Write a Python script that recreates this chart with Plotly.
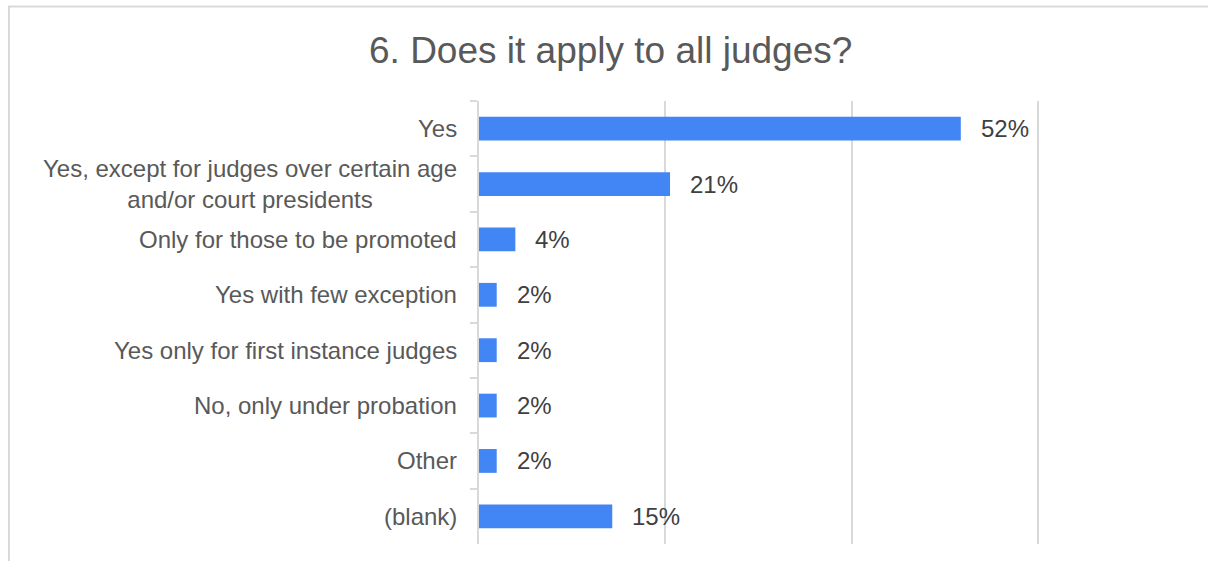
import plotly.graph_objects as go

categories = [
    "Yes",
    "Yes, except for judges over certain age<br>and/or court presidents",
    "Only for those to be promoted",
    "Yes with few exception",
    "Yes only for first instance judges",
    "No, only under probation",
    "Other",
    "(blank)",
]
values = [0.517, 0.205, 0.039, 0.019, 0.019, 0.019, 0.019, 0.143]
labels = ["52%", "21%", "4%", "2%", "2%", "2%", "2%", "15%"]
title_text = "6. Does it apply to all judges?"

W, H = 1208, 561
ML, MR, MT, MB = 479, 168, 101, 17
PW, PH = W - ML - MR, H - MT - MB
X_MAX = 0.602

def px_x(x):
    return (x - ML) / PW

def px_y(y):
    return 1 - (y - MT) / PH

FONT = "Liberation Sans, Arial, sans-serif"
GRID = "#d9d9d9"

fig = go.Figure()
fig.add_trace(go.Bar(
    x=values,
    y=categories,
    orientation="h",
    width=0.43,
    marker=dict(color="#4285F4", line=dict(width=0)),
    hoverinfo="skip",
))

annotations = []
for c in categories:
    annotations.append(dict(
        x=0, y=c, xref="paper", yref="y", text=c, showarrow=False,
        xanchor="right", yanchor="middle", align="center", xshift=-20,
        font=dict(family=FONT, size=24, color="#595959"),
    ))
for c, v, t in zip(categories, values, labels):
    annotations.append(dict(
        x=v, y=c, xref="x", yref="y", text=t, showarrow=False,
        xanchor="left", yanchor="middle", xshift=18,
        font=dict(family=FONT, size=24, color="#404040"),
    ))
annotations.append(dict(
    x=px_x(610), y=px_y(51), xref="paper", yref="paper", text=title_text,
    showarrow=False, xanchor="center", yanchor="middle",
    font=dict(family=FONT, size=37, color="#595959"),
))

fig.update_layout(
    width=W, height=H,
    margin=dict(l=ML, r=MR, t=MT, b=MB, pad=0),
    paper_bgcolor="white",
    plot_bgcolor="white",
    showlegend=False,
    annotations=annotations,
    shapes=[dict(
        type="rect", xref="paper", yref="paper",
        x0=px_x(9), x1=px_x(1215), y0=px_y(568), y1=px_y(6.5),
        line=dict(color=GRID, width=2), fillcolor="rgba(0,0,0,0)", layer="below",
    )],
    xaxis=dict(
        range=[0, X_MAX], dtick=0.2, tick0=0,
        showticklabels=False, showline=False, zeroline=False,
        showgrid=True, gridcolor=GRID, gridwidth=1.5, ticks="",
        fixedrange=True,
    ),
    yaxis=dict(
        autorange="reversed", showticklabels=False, showgrid=False,
        showline=True, linecolor=GRID, linewidth=2,
        ticks="outside", tickson="boundaries", ticklen=7,
        tickcolor=GRID, tickwidth=1.5, zeroline=False,
        fixedrange=True,
    ),
)

fig.write_html("out.html", config={"displayModeBar": False})
